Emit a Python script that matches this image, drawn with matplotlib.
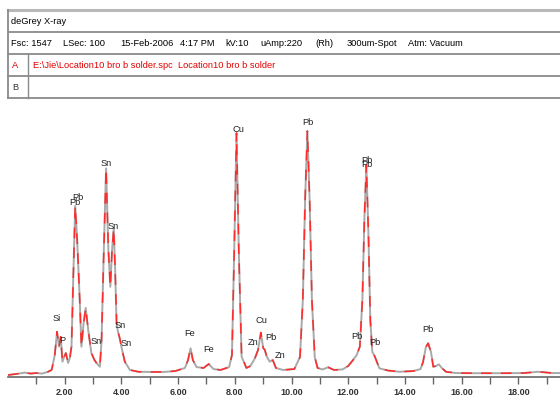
import matplotlib
matplotlib.use("Agg")
import matplotlib.pyplot as plt
from matplotlib.ticker import FixedLocator, FormatStrFormatter

plt.rcParams["font.family"] = ["Liberation Sans", "DejaVu Sans"]

# spectrum (energy keV, counts; full scale 1547)
energy_kev = [
    0.00, 0.30, 0.60, 0.80, 1.00, 1.20, 1.40, 1.54, 1.65, 1.73, 1.80, 1.86,
    1.92, 1.98, 2.04, 2.12, 2.18, 2.24, 2.30, 2.37, 2.44, 2.53, 2.59, 2.66,
    2.74, 2.83, 2.94, 3.05, 3.12, 3.24, 3.30, 3.38, 3.46, 3.54, 3.61, 3.67,
    3.73, 3.78, 3.83, 3.88, 3.94, 4.00, 4.12, 4.30, 4.60, 5.00, 5.50, 5.90,
    6.24, 6.35, 6.44, 6.52, 6.65, 6.90, 7.08, 7.25, 7.50, 7.80, 7.90, 7.98,
    8.06, 8.14, 8.24, 8.41, 8.55, 8.71, 8.82, 8.92, 9.00, 9.06, 9.12, 9.23,
    9.34, 9.45, 9.70, 10.10, 10.30, 10.40, 10.48, 10.56, 10.64, 10.72, 10.82,
    10.92, 11.10, 11.29, 11.50, 11.80, 12.00, 12.17, 12.30, 12.41, 12.50,
    12.57, 12.64, 12.71, 12.78, 12.85, 12.94, 13.10, 13.40, 13.80, 14.30,
    14.55, 14.64, 14.74, 14.82, 14.92, 15.00, 15.10, 15.20, 15.30, 15.45,
    15.80, 16.50, 17.50, 18.20, 18.70, 19.20, 19.50,
]
counts = [
    11, 17, 24, 19, 22, 19, 28, 39, 122, 251, 168, 223,
    85, 111, 133, 78, 105, 168, 538, 948, 760, 427, 168, 288,
    383, 261, 133, 94, 78, 57, 205, 704, 1157, 704, 500, 704,
    824, 593, 299, 251, 216, 168, 85, 39, 29, 28, 28, 33,
    50, 94, 159, 94, 55, 50, 72, 44, 39, 55, 122, 704,
    1353, 704, 113, 50, 61, 104, 150, 246, 161, 150, 116, 85,
    94, 50, 39, 44, 111, 427, 981, 1364, 981, 427, 111,
    50, 42, 54, 39, 42, 61, 94, 122, 168, 427,
    871, 1176, 815, 316, 140, 113, 48, 36, 29, 33,
    44, 83, 166, 187, 139, 57, 61, 70, 50, 29,
    22, 21, 21, 22, 29, 22, 22,
]

# peak labels
label_text = ["Si", "P", "Pb", "Pb", "Sn", "Sn", "Sn", "Sn", "Sn", "Fe", "Fe",
              "Cu", "Zn", "Cu", "Pb", "Zn", "Pb", "Pb", "Pb", "Pb", "Pb", "Pb"]
label_kev = [1.72, 1.93, 2.46, 2.36, 3.47, 3.71, 3.12, 3.94, 4.16, 6.41, 7.09,
             8.12, 8.65, 8.94, 9.26, 9.59, 10.59, 12.65, 12.65, 12.29, 12.94, 14.82]
label_counts = [327, 205, 998, 970, 1185, 833, 196, 288, 183, 242, 154,
                1375, 192, 312, 218, 118, 1412, 1199, 1176, 223, 192, 261]

major_ticks = [2, 4, 6, 8, 10, 12, 14, 16, 18]
minor_ticks = [1, 3, 5, 7, 9, 11, 13, 15, 17, 19]

header_title = "deGrey X-ray"
info_fields = ["Fsc: 1547", "LSec: 100", "15-Feb-2006", "4:17 PM", "kV:10",
               "uAmp:220", "(Rh)", "300um-Spot", "Atm: Vacuum"]
trace_a = "E:\\Jie\\Location10 bro b solder.spc  Location10 bro b solder"

W, H = 560, 396
fig = plt.figure(figsize=(W / 100, H / 100), dpi=100)
fig.patch.set_facecolor("white")

# header panel, drawn in pixel space
hdr = fig.add_axes([0, 0, 1, 1])
hdr.set_xlim(0, W)
hdr.set_ylim(H, 0)
hdr.axis("off")
hdr.plot([8, W], [10, 10], color="#b8b8b8", lw=2.2)
for yy in [32, 54, 76, 98]:
    hdr.plot([8, W], [yy, yy], color="#8a8a8a", lw=1.3)
hdr.plot([8, 8], [10, 98], color="#8a8a8a", lw=1.3)
hdr.plot([28, 28], [54, 98], color="#8a8a8a", lw=1.0)

hdr.text(11, 21, header_title, fontsize=6.7, va="center")
info_x = [11, 63, 120, 180, 225, 260, 315, 347, 408]
for xx, s in zip(info_x, info_fields):
    hdr.text(xx, 43, s, fontsize=6.7, va="center")
hdr.text(15, 65, "A", fontsize=6.7, va="center", ha="center", color="#e00000")
hdr.text(33, 65, trace_a, fontsize=6.7, va="center", color="#e00000")
hdr.text(15, 87, "B", fontsize=6.7, va="center", ha="center", color="#333333")

# spectrum
ax = fig.add_axes([8 / W, 19 / H, (W - 8) / W, 279 / H])
ax.patch.set_alpha(0)
ax.plot(energy_kev, counts, color="#a9a9a9", lw=1.4, zorder=2)
ax.plot(energy_kev, counts, color="#ff2a2a", lw=1.1, dashes=(7, 6), zorder=3)

for s, e, c in zip(label_text, label_kev, label_counts):
    ax.text(e, c, s, fontsize=6.7, ha="center", va="center", color="#222222", zorder=4)

ax.set_xlim(0, (W - 8) / 28.35)
ax.set_ylim(0, 1547)
ax.xaxis.set_major_locator(FixedLocator(major_ticks))
ax.xaxis.set_minor_locator(FixedLocator(minor_ticks))
ax.xaxis.set_major_formatter(FormatStrFormatter("%.2f"))
ax.tick_params(axis="x", which="both", direction="out", length=5, width=1,
               color="#666666", labelsize=6.5, labelcolor="#333333", pad=3)
for lab in ax.get_xticklabels():
    lab.set_fontweight("bold")
ax.set_yticks([])
for side in ["top", "right", "left"]:
    ax.spines[side].set_visible(False)
ax.spines["bottom"].set_color("#666666")
ax.spines["bottom"].set_linewidth(1.2)

fig.savefig("out.png", dpi=100)
